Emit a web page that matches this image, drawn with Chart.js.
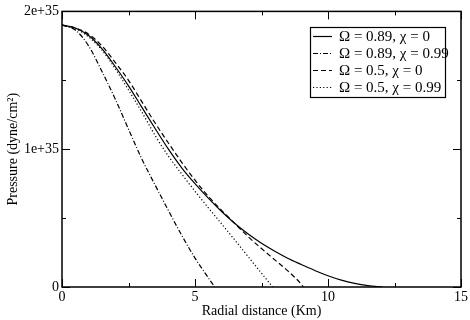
<!DOCTYPE html>
<html><head><meta charset="utf-8">
<script src="https://cdn.jsdelivr.net/npm/chart.js@4/dist/chart.umd.min.js"></script>
<style>html,body{margin:0;padding:0;background:#fff}</style>
</head><body>
<canvas id="c" width="470" height="320"></canvas>
<script>
// ---- data (pressure in dyne/cm^2, radial distance in km) ----
const seriesLabels = ["Ω = 0.89, χ = 0", "Ω = 0.89, χ = 0.99", "Ω = 0.5, χ = 0", "Ω = 0.5, χ = 0.99"];

const rSolid = [0,0.5,1,1.5,2,2.5,3,3.5,4,4.5,5,5.5,6,6.5,7,7.5,8,8.5,9,9.5,10,10.5,11,11.5,12.05];
const pSolid = [1.90,1.88,1.825,1.73,1.60,1.46,1.305,1.15,1.00,0.865,0.75,0.645,0.548,0.461,0.384,0.317,0.259,0.207,0.163,0.12,0.082,0.05,0.026,0.0096,0];

const rDashDot = [0,0.5,1,1.5,2,2.5,3,3.5,4,4.5,5,5.5,5.74];
const pDashDot = [1.90,1.865,1.75,1.565,1.365,1.145,0.93,0.74,0.555,0.375,0.21,0.067,0];

const rDashed = [0,0.5,1,1.5,2,2.5,3,3.5,4,4.5,5,5.5,6,6.5,7,7.5,8,8.5,9,9.07];
const pDashed = [1.90,1.88,1.835,1.75,1.63,1.50,1.345,1.19,1.045,0.905,0.775,0.658,0.556,0.46,0.365,0.279,0.197,0.115,0.019,0];

const rDotted = [0,0.5,1,1.5,2,2.5,3,3.5,4,4.5,5,5.5,6,6.5,7,7.5,7.92];
const pDotted = [1.90,1.875,1.815,1.72,1.585,1.43,1.27,1.10,0.95,0.82,0.695,0.575,0.458,0.34,0.22,0.10,0];

const pUnit = 1e35;
const xTickValues = [0,5,10,15];
const xTickLabels = ["0","5","10","15"];
const xMinorTicks = [2.5,7.5,12.5];
const yTickValues = [0,1e35,2e35];
const yTickLabels = ["0","1e+35","2e+35"];
const yMinorTicks = [0.5e35,1.5e35];

// ---- build ----
const pts = (r,p) => r.map((x,i)=>({x:x, y:p[i]*pUnit}));
const FONT = "Liberation Serif";
const mk = (label, r, p, dash) => ({label, data: pts(r,p), borderColor:'#000', borderWidth:1.2,
  borderDash: dash, pointRadius:0, fill:false, cubicInterpolationMode:'monotone'});

const datasets = [
  mk(seriesLabels[0], rSolid, pSolid, []),
  mk(seriesLabels[1], rDashDot, pDashDot, [5,2,1,2]),
  mk(seriesLabels[2], rDashed, pDashed, [5,3]),
  mk(seriesLabels[3], rDotted, pDotted, [1.2,2.2]),
];

const framePlugin = {
  id:'frame',
  afterDatasetsDraw(chart){
    const {ctx, chartArea:a, scales:{x,y}} = chart;
    ctx.save();
    ctx.strokeStyle='#000'; ctx.lineWidth=1.5; ctx.setLineDash([]);
    ctx.strokeRect(a.left, a.top, a.right-a.left, a.bottom-a.top);
    ctx.lineWidth=1;
    const tick=(x1,y1,x2,y2)=>{ctx.beginPath();ctx.moveTo(x1,y1);ctx.lineTo(x2,y2);ctx.stroke();};
    xTickValues.forEach(v=>{const px=Math.round(x.getPixelForValue(v))+0.5; tick(px,a.bottom,px,a.bottom-8); tick(px,a.top,px,a.top+8);});
    xMinorTicks.forEach(v=>{const px=Math.round(x.getPixelForValue(v))+0.5; tick(px,a.bottom,px,a.bottom-4); tick(px,a.top,px,a.top+4);});
    yTickValues.forEach(v=>{const py=Math.round(y.getPixelForValue(v))+0.5; tick(a.left,py,a.left+8,py); tick(a.right,py,a.right-8,py);});
    yMinorTicks.forEach(v=>{const py=Math.round(y.getPixelForValue(v))+0.5; tick(a.left,py,a.left+4,py); tick(a.right,py,a.right-4,py);});
    // legend
    const bx=310, by=27, bw=135, bh=70;
    ctx.fillStyle='#fff'; ctx.fillRect(bx,by,bw,bh);
    ctx.lineWidth=1.2; ctx.strokeRect(bx+0.5,by+0.5,bw,bh);
    ctx.font = "15px "+FONT; ctx.fillStyle='#000'; ctx.textBaseline='middle';
    chart.data.datasets.forEach((d,i)=>{
      const ry = by+9+i*17;
      ctx.setLineDash(d.borderDash); ctx.lineWidth=1.2;
      tick(bx+3, ry+0.5, bx+22, ry+0.5);
      ctx.setLineDash([]);
      ctx.fillText(d.label, bx+29, ry+1);
    });
    ctx.restore();
  }
};

new Chart(document.getElementById('c'), {
  type:'line',
  data:{datasets},
  plugins:[framePlugin],
  options:{
    responsive:false, animation:false, devicePixelRatio:1,
    layout:{padding:{top:8,right:8,left:0,bottom:0}},
    plugins:{legend:{display:false}, tooltip:{enabled:false}},
    scales:{
      x:{type:'linear', min:0, max:15,
        afterFit:s=>{s.height=33;},
        afterBuildTicks:s=>{s.ticks=xTickValues.map(v=>({value:v}));},
        ticks:{callback:(v)=>xTickLabels[xTickValues.indexOf(v)], color:'#000', font:{family:FONT,size:14}, padding:2, maxRotation:0},
        grid:{display:false, drawTicks:false}, border:{display:false},
        title:{display:true, text:'Radial distance (Km)', color:'#000', font:{family:FONT,size:14}, padding:{top:0,bottom:0}}},
      y:{type:'linear', min:0, max:2e35,
        afterFit:s=>{s.width=62;},
        afterBuildTicks:s=>{s.ticks=yTickValues.map(v=>({value:v}));},
        ticks:{callback:(v)=>yTickLabels[yTickValues.indexOf(v)], color:'#000', font:{family:FONT,size:14}, padding:3},
        grid:{display:false, drawTicks:false}, border:{display:false},
        title:{display:true, text:'Pressure (dyne/cm²)', color:'#000', font:{family:FONT,size:14}, padding:{top:5,bottom:0}}}
    }
  }
});
</script>
</body></html>
